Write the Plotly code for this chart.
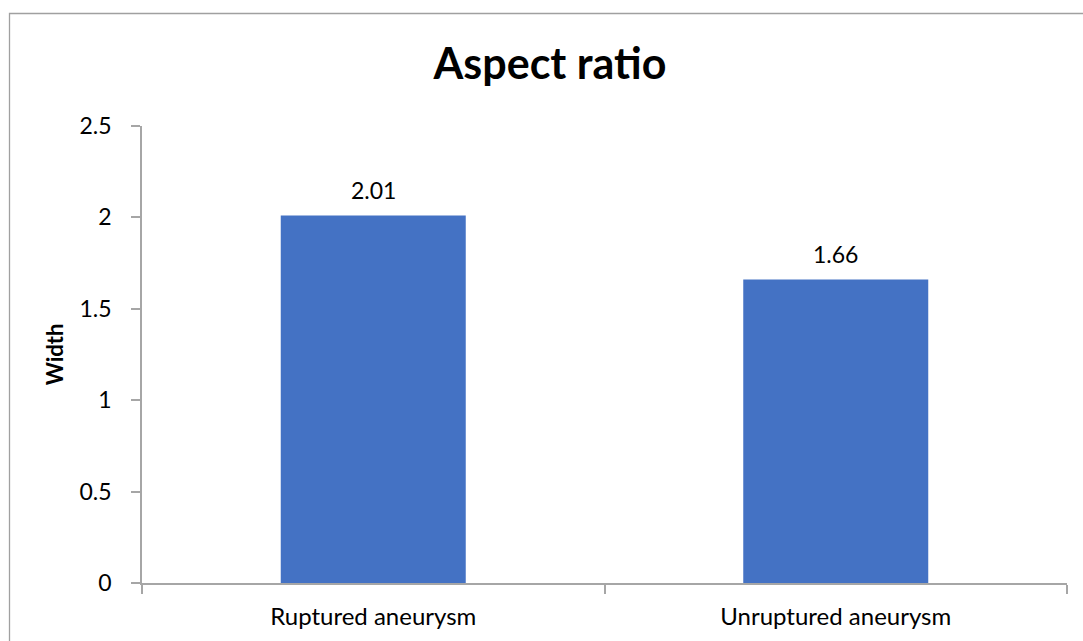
import plotly.graph_objects as go

categories = ["Ruptured aneurysm", "Unruptured aneurysm"]
values = [2.01, 1.66]
y_ticks = [0, 0.5, 1, 1.5, 2, 2.5]
y_tick_labels = ["0", "0.5", "1", "1.5", "2", "2.5"]

FONT = "Lato"
AXIS_GREY = "#a6a6a6"

W, H = 1083, 641
ml, mr, mt, mb = 142, 16, 126, 58
pw, ph = W - ml - mr, H - mt - mb

fig = go.Figure(
    go.Bar(
        x=categories,
        y=values,
        marker=dict(color="#4472C4", line=dict(width=0)),
        width=0.4,
        hoverinfo="x+y",
    )
)

# value labels above each bar
for c, v in zip(categories, values):
    fig.add_annotation(
        x=c, y=v, text=f"{v:.2f}", showarrow=False,
        yanchor="bottom", yshift=10,
        font=dict(family=FONT, size=23, color="#000000"),
    )

# outer chart frame
def px_x(p):
    return (p - ml) / pw

def px_y(p):
    return (H - mb - p) / ph

fig.add_shape(
    type="rect", xref="paper", yref="paper",
    x0=px_x(9.5), x1=px_x(1100), y0=px_y(660), y1=px_y(13.5),
    line=dict(color="#a0a0a0", width=1.3), fillcolor="rgba(0,0,0,0)",
    layer="below",
)

fig.update_layout(
    width=W, height=H,
    margin=dict(l=ml, r=mr, t=mt, b=mb, pad=0),
    paper_bgcolor="white", plot_bgcolor="white",
    showlegend=False,
    title=dict(
        text="<b>Aspect ratio</b>",
        x=550 / W, xanchor="center",
        y=1 - 64 / H, yanchor="middle", yref="container",
        font=dict(family=FONT, size=43, color="#000000"),
    ),
    xaxis=dict(
        automargin=False,
        showline=True, linecolor=AXIS_GREY, linewidth=1.5,
        ticks="outside", tickson="boundaries", ticklen=9,
        tickcolor=AXIS_GREY, tickwidth=1.5,
        tickfont=dict(family=FONT, size=24, color="#000000"),
        ticklabelstandoff=11,
        showgrid=False, zeroline=False,
    ),
    yaxis=dict(
        automargin=False,
        range=[0, 2.5],
        tickvals=y_ticks, ticktext=y_tick_labels,
        showline=True, linecolor=AXIS_GREY, linewidth=1.5,
        ticks="outside", ticklen=9, tickcolor=AXIS_GREY, tickwidth=1.5,
        tickfont=dict(family=FONT, size=23, color="#000000"),
        ticklabelstandoff=15,
        showgrid=False, zeroline=False,
        title=dict(text="<b>Width</b>", standoff=10,
                   font=dict(family=FONT, size=22, color="#000000")),
    ),
)

fig.write_html("out.html")
